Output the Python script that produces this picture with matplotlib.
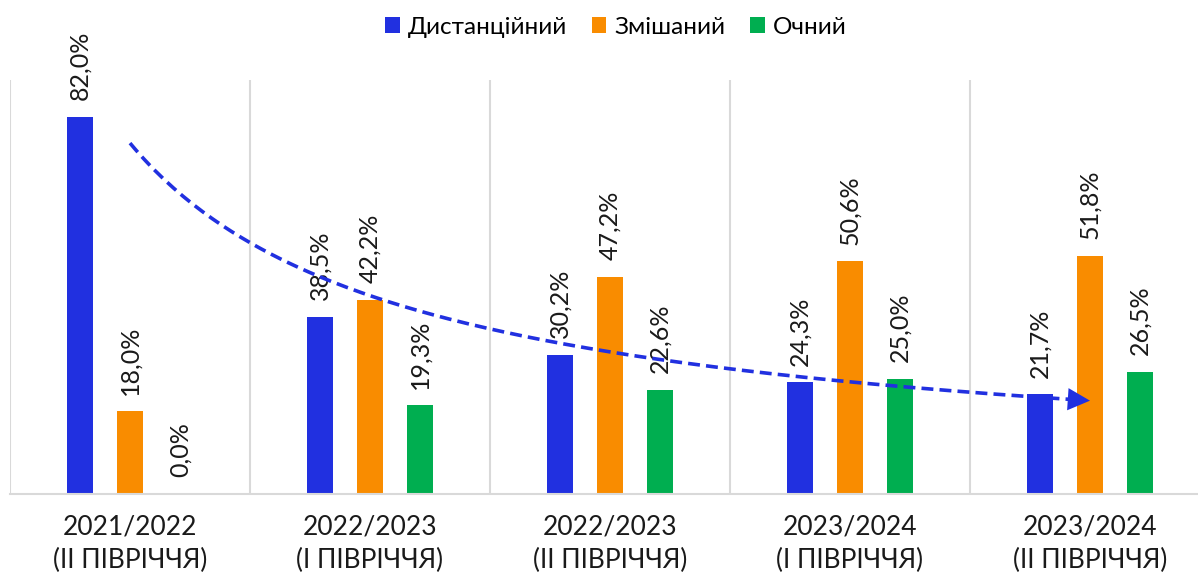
import numpy as np
import matplotlib

matplotlib.use('Agg')
import matplotlib.pyplot as plt
from matplotlib.patches import Patch

plt.rcParams['font.family'] = ['Lato', 'DejaVu Sans']

periods = ['2021/2022\n(ІІ ПІВРІЧЧЯ)', '2022/2023\n(І ПІВРІЧЧЯ)', '2022/2023\n(ІІ ПІВРІЧЧЯ)',
           '2023/2024\n(І ПІВРІЧЧЯ)', '2023/2024\n(ІІ ПІВРІЧЧЯ)']
distance = [82.0, 38.5, 30.2, 24.3, 21.7]
mixed = [18.0, 42.2, 47.2, 50.6, 51.8]
offline = [0.0, 19.3, 22.6, 25.0, 26.5]
series_names = ['Дистанційний', 'Змішаний', 'Очний']
colors = ['#2130E0', '#F98C00', '#00AE50']

fig = plt.figure(figsize=(11.98, 5.75), dpi=100)
ax = fig.add_axes([10 / 1198, 81 / 575, 1188 / 1198, 414 / 575])

x = np.arange(len(periods))
w = 0.108
step = 0.208
for i, (vals, c) in enumerate(zip([distance, mixed, offline], colors)):
    pos = x + (i - 1) * step
    ax.bar(pos, vals, width=w, color=c, linewidth=0, zorder=2)
    for px, v in zip(pos, vals):
        ax.annotate(f"{v:.1f}%".replace('.', ','), (px, v), xytext=(0, 12),
                    textcoords='offset points', rotation=90, ha='center', va='bottom',
                    fontsize=18, color='#1a1a1a', zorder=2.5)

# power trend of the distance share (like Excel's trendline)
t = np.arange(1, len(distance) + 1)
b, ln_a = np.polyfit(np.log(t), np.log(distance), 1)
tt = np.linspace(1, len(distance), 200)
trend = np.exp(ln_a) * tt ** b
tx = tt - 1
ax.plot(tx[:-3], trend[:-3], color=colors[0], lw=2.6, ls=(0, (3.3, 1.7)),
        dash_capstyle='butt', zorder=3)
ax.annotate('', xy=(tx[-1], trend[-1]), xytext=(tx[-6], trend[-6]),
            arrowprops=dict(arrowstyle='-|>,head_length=0.8,head_width=0.4',
                            mutation_scale=20, color=colors[0], lw=0,
                            shrinkA=0, shrinkB=0), zorder=3)

ax.set_xlim(-0.5, -0.5 + 1188 / 240)
ax.set_ylim(0, 90)
for xv in np.arange(-0.5, 5, 1.0):
    ax.axvline(xv, color='#D9D9D9', lw=1.5, zorder=1)

for s in ['top', 'right', 'left']:
    ax.spines[s].set_visible(False)
ax.spines['bottom'].set_color('#D9D9D9')
ax.spines['bottom'].set_linewidth(1.5)
ax.set_yticks([])
ax.set_xticks(x)
ax.set_xticklabels(periods, fontsize=19, linespacing=1.4, color='#1a1a1a')
ax.tick_params(axis='x', length=0, pad=15)

handles = [Patch(facecolor=c, edgecolor='none') for c in colors]
fig.legend(handles, series_names, loc='center', bbox_to_anchor=(616 / 1198, 1 - 27 / 575),
           ncol=3, frameon=False, fontsize=17.5, handlelength=0.6, handleheight=0.6,
           handletextpad=0.35, columnspacing=1.0)

fig.savefig('out.png', dpi=100)
plt.close(fig)
